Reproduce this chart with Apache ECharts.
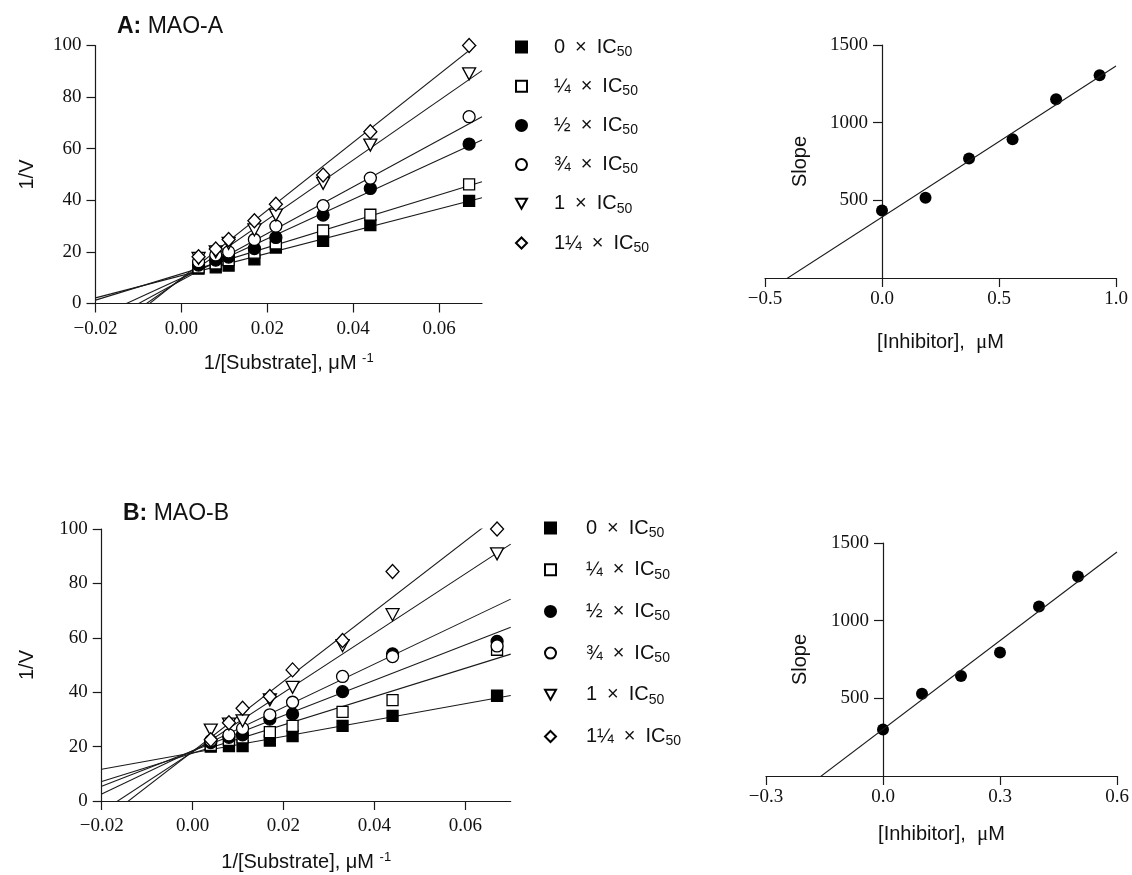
<!DOCTYPE html>
<html>
<head>
<meta charset="utf-8">
<script src="https://cdn.jsdelivr.net/npm/echarts@6/dist/echarts.min.js"></script>
<style>
html, body { margin: 0; padding: 0; background: #fff; }
#main { width: 1132px; height: 875px; }
</style>
</head>
<body>
<div id="main"></div>
<script>
// 1/[Substrate] (uM^-1), same for both panels
var substrateInv = [0.004, 0.008, 0.011, 0.017, 0.022, 0.033, 0.044, 0.067];
var doseNames = ['0 × IC50', '¼ × IC50', '½ × IC50', '¾ × IC50', '1 × IC50', '1¼ × IC50'];

// A: MAO-A, 1/V per inhibitor level
var maoA0 = [13.5, 14.0, 14.7, 17.1, 21.7, 24.3, 30.4, 39.8];
var maoA1 = [14.0, 15.5, 16.8, 19.7, 23.3, 28.3, 34.4, 46.2];
var maoA2 = [14.9, 16.8, 18.0, 21.3, 25.6, 34.3, 44.6, 61.8];
var maoA3 = [16.2, 18.8, 20.0, 24.8, 30.0, 37.9, 48.6, 72.4];
var maoA4 = [17.5, 20.0, 23.3, 28.5, 34.3, 46.6, 61.4, 89.0];
var maoA5 = [18.1, 21.1, 24.8, 32.1, 38.5, 49.8, 66.6, 100.0];
var fitSlopeA = [431, 510, 766, 905, 1155, 1318];
var fitInterceptA = [10.8, 11.5, 9.8, 9.0, 9.4, 9.75];

// B: MAO-B
var maoB0 = [20.0, 20.2, 20.2, 22.2, 23.9, 27.6, 31.3, 38.7];
var maoB1 = [20.6, 22.5, 23.4, 25.3, 27.6, 32.8, 37.1, 55.6];
var maoB2 = [21.5, 23.4, 24.3, 30.1, 32.0, 40.2, 54.1, 58.7];
var maoB3 = [22.2, 24.3, 26.7, 31.7, 36.3, 45.8, 53.1, 57.0];
var maoB4 = [26.1, 28.3, 29.5, 37.2, 41.8, 57.1, 68.5, 90.9];
var maoB5 = [22.5, 28.8, 34.1, 38.4, 48.2, 59.0, 84.4, 100.0];
var fitSlopeB = [301, 520, 650, 796, 1092, 1289];
var fitInterceptB = [17.7, 17.6, 18.4, 18.5, 18.0, 18.2];

// secondary plots: slope vs [inhibitor]
var inhibA = [0, 0.186, 0.372, 0.558, 0.744, 0.930];
var slopeA = [435, 517, 769, 893, 1150, 1306];
var inhibB = [0, 0.1, 0.2, 0.3, 0.4, 0.5];
var slopeB = [300, 530, 644, 795, 1091, 1285];
var replotA = { slope: 973, intercept: 392 };
var replotB = { slope: 1902, intercept: 301 };

var serif = 'Liberation Serif';
var sans = 'Liberation Sans';
var ink = '#1a1a1a';

var symbols = ['rect', 'rect', 'circle', 'circle', 'path://M0,0L10,0L5,9Z', 'diamond'];
var symbolSizes = [11, 11, 12, 12, [13, 12], [13, 14]];
var fills = ['#000', '#fff', '#000', '#fff', '#fff', '#fff'];

function pairs(xs, ys) {
    return xs.map(function (x, i) { return [x, ys[i]]; });
}
function fitLine(m, b, x0, x1) {
    return [[x0, b + m * x0], [x1, b + m * x1]];
}
function minus(s) { return String(s).replace('-', '\u2212'); }

function valueAxis(gridIndex, o) {
    var ax = {
        type: 'value',
        gridIndex: gridIndex,
        min: o.min, max: o.max,
        offset: o.offset || 0,
        splitLine: { show: false },
        axisLine: { onZero: false, lineStyle: { color: ink, width: 1.2 } },
        axisTick: { length: 9, lineStyle: { color: ink, width: 1.2 } },
        axisLabel: {
            fontFamily: serif, fontSize: 19, color: '#111', margin: o.margin || 14,
            formatter: function (v) { return minus(v.toFixed(o.digits || 0)); }
        },
        name: o.name,
        nameLocation: 'middle',
        nameGap: o.nameGap,
        nameTextStyle: {
            fontFamily: sans, fontSize: 20, color: '#111',
            rich: {
                n: { fontFamily: sans, fontSize: 20, color: '#111' },
                g: { fontFamily: serif, fontSize: 21, color: '#111' },
                sup: { fontFamily: sans, fontSize: 13, color: '#111', padding: [0, 0, 10, 0] }
            }
        }
    };
    if (o.ticks) {
        ax.axisLabel.customValues = o.ticks;
        ax.axisTick.customValues = o.ticks;
    } else {
        ax.interval = o.interval;
    }
    return ax;
}

var series = [];
var lbData = [maoA0, maoA1, maoA2, maoA3, maoA4, maoA5];
var lbDataB = [maoB0, maoB1, maoB2, maoB3, maoB4, maoB5];

function addPanel(idx, data, slopes, intercepts) {
    for (var i = 0; i < 6; i++) {
        series.push({
            type: 'line', xAxisIndex: idx, yAxisIndex: idx,
            data: fitLine(slopes[i], intercepts[i], -0.02, 0.07),
            symbol: 'none', clip: true, silent: true, z: 2,
            lineStyle: { color: ink, width: 1.1 }
        });
    }
    for (var j = 0; j < 6; j++) {
        series.push({
            type: 'scatter', name: doseNames[j], xAxisIndex: idx, yAxisIndex: idx,
            data: pairs(substrateInv, data[j]),
            symbol: symbols[j], symbolSize: symbolSizes[j], z: 3,
            itemStyle: { color: fills[j], borderColor: '#000', borderWidth: 1.3, opacity: 1 }
        });
    }
}
addPanel(0, lbData, fitSlopeA, fitInterceptA);
addPanel(1, lbDataB, fitSlopeB, fitInterceptB);

series.push({
    type: 'line', xAxisIndex: 2, yAxisIndex: 2, symbol: 'none', clip: true, silent: true,
    data: fitLine(replotA.slope, replotA.intercept, -0.5, 1.0),
    lineStyle: { color: ink, width: 1.1 }
});
series.push({
    type: 'scatter', xAxisIndex: 2, yAxisIndex: 2, symbol: 'circle', symbolSize: 12,
    data: pairs(inhibA, slopeA), itemStyle: { color: '#000', opacity: 1 }
});
series.push({
    type: 'line', xAxisIndex: 3, yAxisIndex: 3, symbol: 'none', clip: true, silent: true,
    data: fitLine(replotB.slope, replotB.intercept, -0.3, 0.6),
    lineStyle: { color: ink, width: 1.1 }
});
series.push({
    type: 'scatter', xAxisIndex: 3, yAxisIndex: 3, symbol: 'circle', symbolSize: 12,
    data: pairs(inhibB, slopeB), itemStyle: { color: '#000', opacity: 1 }
});

function legendAt(left, top, gap, textGap) {
    return {
        orient: 'vertical', left: left, top: top, itemGap: gap,
        itemWidth: 11, itemHeight: 11, selectedMode: false,
        data: doseNames,
        formatter: function (name) {
            return '{g| }{t|' + name.replace(' × IC50', '\u2002×\u2002IC') + '}{s|50}';
        },
        textStyle: {
            rich: {
                g: { width: textGap, fontSize: 20, lineHeight: 22 },
                t: { fontFamily: sans, fontSize: 20, color: '#111', lineHeight: 22 },
                s: { fontFamily: sans, fontSize: 14, color: '#111', padding: [10, 0, 0, 0] }
            }
        }
    };
}

var subName = '{n|1/[Substrate], μM }{sup|-1}';
var inhName = '{n|[Inhibitor],  }{g|μ}{n|M}';
var titleStyle = {
    fontFamily: sans, fontSize: 23, fontWeight: 'normal', color: '#111',
    rich: { b: { fontFamily: sans, fontSize: 23, fontWeight: 'bold', color: '#111' } }
};

var option = {
    animation: false,
    backgroundColor: '#fff',
    title: [
        { text: '{b|A:} MAO-A', left: 112, top: 10, textStyle: titleStyle },
        { text: '{b|B:} MAO-B', left: 118, top: 497, textStyle: titleStyle }
    ],
    legend: [legendAt(510, 32, 17.2, 22), legendAt(539, 513, 19.7, 25)],
    grid: [
        { left: 95.5, top: 45.5, width: 386.5, height: 258 },
        { left: 101.7, top: 529, width: 409, height: 272 },
        { left: 765, top: 45, width: 351, height: 233 },
        { left: 766, top: 543, width: 351, height: 233 }
    ],
    xAxis: [
        valueAxis(0, { min: -0.02, max: 0.07, ticks: [-0.02, 0, 0.02, 0.04, 0.06], digits: 2, margin: 16, name: subName, nameGap: 48 }),
        valueAxis(1, { min: -0.02, max: 0.07, ticks: [-0.02, 0, 0.02, 0.04, 0.06], digits: 2, margin: 16, name: subName, nameGap: 50 }),
        valueAxis(2, { min: -0.5, max: 1.0, interval: 0.5, digits: 1, margin: 12, name: inhName, nameGap: 54 }),
        valueAxis(3, { min: -0.3, max: 0.6, interval: 0.3, digits: 1, margin: 12, name: inhName, nameGap: 48 })
    ],
    yAxis: [
        valueAxis(0, { min: 0, max: 100, interval: 20, name: '1/V', nameGap: 58 }),
        valueAxis(1, { min: 0, max: 100, interval: 20, name: '1/V', nameGap: 64 }),
        valueAxis(2, { min: 0, max: 1500, ticks: [500, 1000, 1500], name: 'Slope', nameGap: 72, offset: -117 }),
        valueAxis(3, { min: 0, max: 1500, ticks: [500, 1000, 1500], name: 'Slope', nameGap: 73, offset: -117 })
    ],
    series: series
};

var chart = echarts.init(document.getElementById('main'));
chart.setOption(option);
</script>
</body>
</html>
